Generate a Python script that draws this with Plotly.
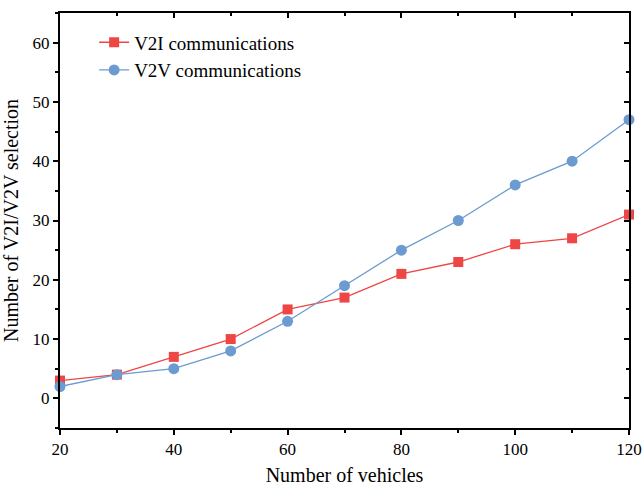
import plotly.graph_objects as go

vehicles = [20, 30, 40, 50, 60, 70, 80, 90, 100, 110, 120]
v2i = [3, 4, 7, 10, 15, 17, 21, 23, 26, 27, 31]
v2v = [2, 4, 5, 8, 13, 19, 25, 30, 36, 40, 47]

red = "#EE4545"
blue = "#6B9BD0"
font = "Liberation Serif"

fig = go.Figure()
fig.add_trace(go.Scatter(x=vehicles, y=v2i, mode="lines+markers", name="V2I communications",
                         line=dict(color=red, width=1.3),
                         marker=dict(symbol="square", size=10, color=red), cliponaxis=False))
fig.add_trace(go.Scatter(x=vehicles, y=v2v, mode="lines+markers", name="V2V communications",
                         line=dict(color=blue, width=1.3),
                         marker=dict(symbol="circle", size=11, color=blue), cliponaxis=False))
fig.add_trace(go.Scatter(x=vehicles, y=v2v, xaxis="x2", yaxis="y2", mode="markers",
                         marker=dict(opacity=0), showlegend=False, hoverinfo="skip"))

axcommon = dict(showgrid=False, zeroline=False, showline=True, linecolor="black", linewidth=2,
                tickcolor="black", tickwidth=2, ticklen=5, automargin=False)
tf = dict(family=font, size=17, color="black")

fig.update_layout(
    width=644, height=486,
    margin=dict(l=60, r=15, t=13, b=58),
    paper_bgcolor="white", plot_bgcolor="white",
    font=dict(family=font, color="black"),
    xaxis=dict(range=[20, 120], dtick=20, tick0=20, ticks="outside", tickfont=tf,
               minor=dict(dtick=10, tick0=20, ticks="outside", ticklen=3, tickwidth=2, tickcolor="black"),
               title=dict(text="Number of vehicles", font=dict(family=font, size=20), standoff=13),
               **axcommon),
    yaxis=dict(range=[-5, 65], dtick=10, tick0=0, ticks="outside", tickfont=tf,
               minor=dict(dtick=5, tick0=0, ticks="outside", ticklen=3, tickwidth=2, tickcolor="black"),
               title=dict(text="Number of V2I/V2V selection", font=dict(family=font, size=20), standoff=11),
               **axcommon),
    xaxis2=dict(overlaying="x", side="top", matches="x", anchor="y2", ticks="inside",
                showticklabels=False, dtick=20, tick0=20,
                minor=dict(dtick=10, tick0=20, ticks="inside", ticklen=3, tickwidth=2, tickcolor="black"),
                **axcommon),
    yaxis2=dict(overlaying="y", side="right", matches="y", anchor="x2", ticks="inside",
                showticklabels=False, dtick=10, tick0=0,
                minor=dict(dtick=5, tick0=0, ticks="inside", ticklen=3, tickwidth=2, tickcolor="black"),
                **axcommon),
    legend=dict(x=0.06, y=0.975, xanchor="left", yanchor="top", bgcolor="rgba(0,0,0,0)",
                font=dict(family=font, size=19, color="black"), tracegroupgap=0),
    showlegend=True,
)

fig.write_html("out.html")
